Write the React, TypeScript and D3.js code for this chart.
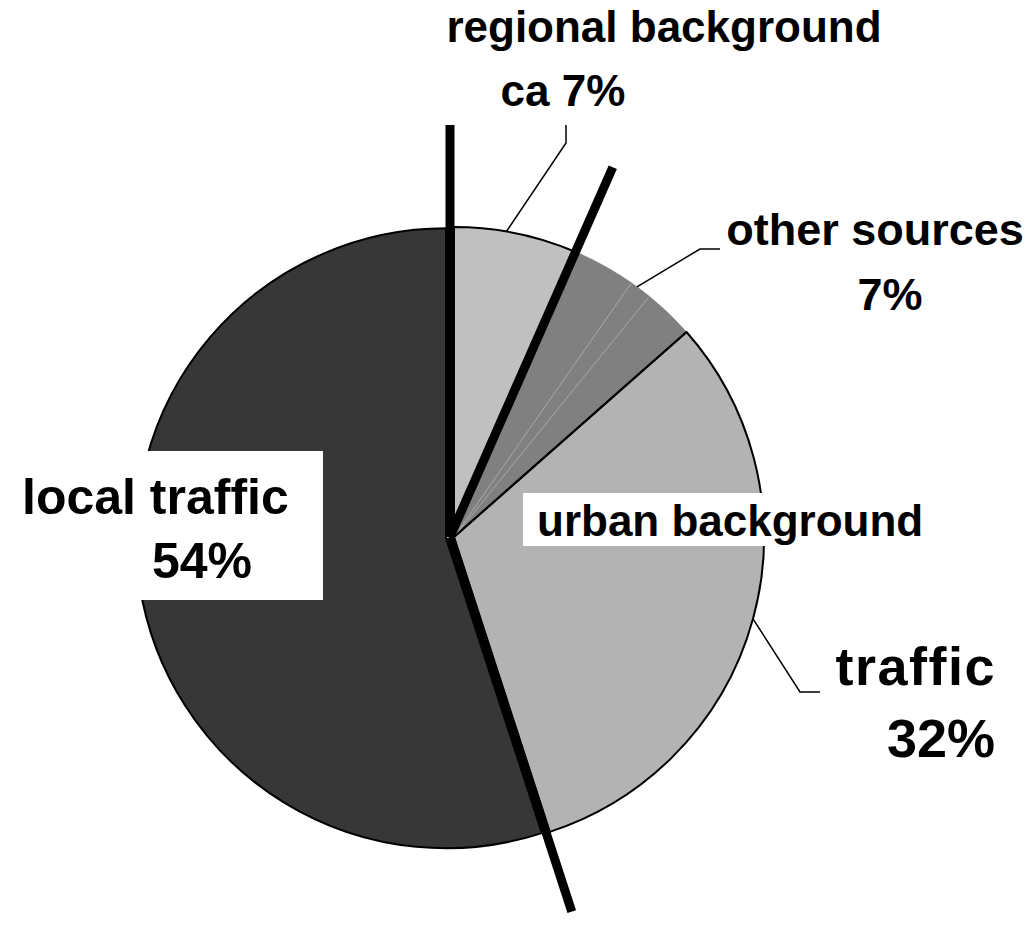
import React from "react";
import * as d3 from "d3";

// ---- data ----
const sliceNames = [
  "regional background",
  "other sources (a)",
  "other sources (b)",
  "other sources (c)",
  "urban background traffic",
  "local traffic",
];
const sliceValues = [6.6, 3.1, 1.15, 2.65, 31.5, 55.0];
const sliceGroups = ["regional", "urban", "urban", "urban", "urban", "local"];
const sliceKinds = ["regional", "other", "other", "other", "traffic", "local"];
const labelTexts = [
  "regional background",
  "ca 7%",
  "other sources",
  "7%",
  "urban background",
  "traffic",
  "32%",
  "local traffic",
  "54%",
];

// ---- styling / layout ----
const W = 1030;
const H = 937;
const CX = 454;
const CY = 537;
const R = 310;
const FONT = "'Liberation Sans', Arial, Helvetica, sans-serif";
const kindFill: Record<string, string> = {
  regional: "#c0c0c0",
  other: "#808080",
  traffic: "#b3b3b3",
  local: "#373737",
};
const explode: Record<string, number> = { local: 8 };
const sepCenter = { x: 450, y: 537 };
const sepLengths = [412, 404, 394];

export default function App() {
  const pie = d3
    .pie<number>()
    .sort(null)
    .value((d) => d)
    .startAngle(0)
    .endAngle(2 * Math.PI);
  const arcs = pie(sliceValues);
  const arcGen = d3.arc<d3.PieArcDatum<number>>().innerRadius(0).outerRadius(R);

  const pt = (a: number, r: number, c = { x: CX, y: CY }) => [
    c.x + r * Math.sin(a),
    c.y - r * Math.cos(a),
  ];

  // separators where the group changes
  const sepAngles: number[] = [];
  arcs.forEach((a, i) => {
    const prev = (i - 1 + arcs.length) % arcs.length;
    if (sliceGroups[i] !== sliceGroups[prev]) sepAngles.push(a.startAngle);
  });

  const otherIdx = sliceKinds.map((k, i) => (k === "other" ? i : -1)).filter((i) => i >= 0);
  const otherStart = arcs[otherIdx[0]].startAngle;
  const otherEnd = arcs[otherIdx[otherIdx.length - 1]].endAngle;
  const reg = arcs[0];
  const traf = arcs[4];

  const regAnchor = pt(reg.startAngle + 0.41 * (reg.endAngle - reg.startAngle), R);
  const othAnchor = pt((otherStart + otherEnd) / 2, R);
  const trafAnchor = pt((traf.startAngle + traf.endAngle) / 2, R);

  return (
    <svg
      width={W}
      height={H}
      viewBox={`0 0 ${W} ${H}`}
      style={{ position: "absolute", left: 0, top: 0, background: "#fff" }}
    >
      <rect x={0} y={0} width={W} height={H} fill="#fff" />
      {/* slices */}
      {arcs.map((a, i) => {
        const k = sliceKinds[i];
        const mid = (a.startAngle + a.endAngle) / 2;
        const off = explode[k] || 0;
        const tx = CX + off * Math.sin(mid);
        const ty = CY - off * Math.cos(mid);
        const isOther = k === "other";
        return (
          <path
            key={sliceNames[i]}
            d={arcGen(a) || ""}
            transform={`translate(${tx},${ty})`}
            fill={kindFill[k]}
            stroke={isOther ? kindFill[k] : "#000"}
            strokeWidth={isOther ? 0.6 : 2}
            strokeLinejoin="round"
          />
        );
      })}
      {/* thin boundaries inside other sources */}
      {otherIdx.slice(1).map((i) => {
        const [x2, y2] = pt(arcs[i].startAngle, R - 1);
        return (
          <line
            key={"sub" + i}
            x1={CX}
            y1={CY}
            x2={x2}
            y2={y2}
            stroke="#a6a6a6"
            strokeWidth={1}
          />
        );
      })}
      {/* other / traffic boundary */}
      {(() => {
        const [x2, y2] = pt(otherEnd, R);
        return <line x1={CX} y1={CY} x2={x2} y2={y2} stroke="#000" strokeWidth={2} />;
      })()}

      {/* white label boxes */}
      <rect x={60} y={451} width={263} height={149} fill="#fff" />
      <rect x={523} y={493} width={420} height={53} fill="#fff" />

      {/* leader lines */}
      <polyline
        points={`${regAnchor[0]},${regAnchor[1]} 566,143 566,125`}
        fill="none"
        stroke="#000"
        strokeWidth={1.5}
      />
      <polyline
        points={`${othAnchor[0]},${othAnchor[1]} 700,249 720,249`}
        fill="none"
        stroke="#000"
        strokeWidth={1.5}
      />
      <polyline
        points={`${trafAnchor[0]},${trafAnchor[1]} 800,692 820,692`}
        fill="none"
        stroke="#000"
        strokeWidth={1.5}
      />

      {/* thick separators */}
      {sepAngles.map((a, i) => {
        const [x2, y2] = pt(a, sepLengths[i], sepCenter);
        return (
          <line
            key={"sep" + i}
            x1={sepCenter.x}
            y1={sepCenter.y}
            x2={x2}
            y2={y2}
            stroke="#000"
            strokeWidth={9}
            strokeLinecap="butt"
          />
        );
      })}

      {/* labels */}
      <g fontFamily={FONT} fontWeight="bold" fill="#000">
        <text x={664} y={42} fontSize={44} textAnchor="middle">{labelTexts[0]}</text>
        <text x={563} y={106} fontSize={44} textAnchor="middle">{labelTexts[1]}</text>
        <text x={875} y={245} fontSize={45} textAnchor="middle">{labelTexts[2]}</text>
        <text x={890} y={310} fontSize={45} textAnchor="middle">{labelTexts[3]}</text>
        <text x={537} y={536} fontSize={44} textAnchor="start">{labelTexts[4]}</text>
        <text x={996} y={685} fontSize={54} textAnchor="end" letterSpacing={1.5}>{labelTexts[5]}</text>
        <text x={995} y={757} fontSize={54} textAnchor="end">{labelTexts[6]}</text>
        <text x={22} y={514} fontSize={50} textAnchor="start">{labelTexts[7]}</text>
        <text x={202} y={578} fontSize={50} textAnchor="middle">{labelTexts[8]}</text>
      </g>
    </svg>
  );
}
